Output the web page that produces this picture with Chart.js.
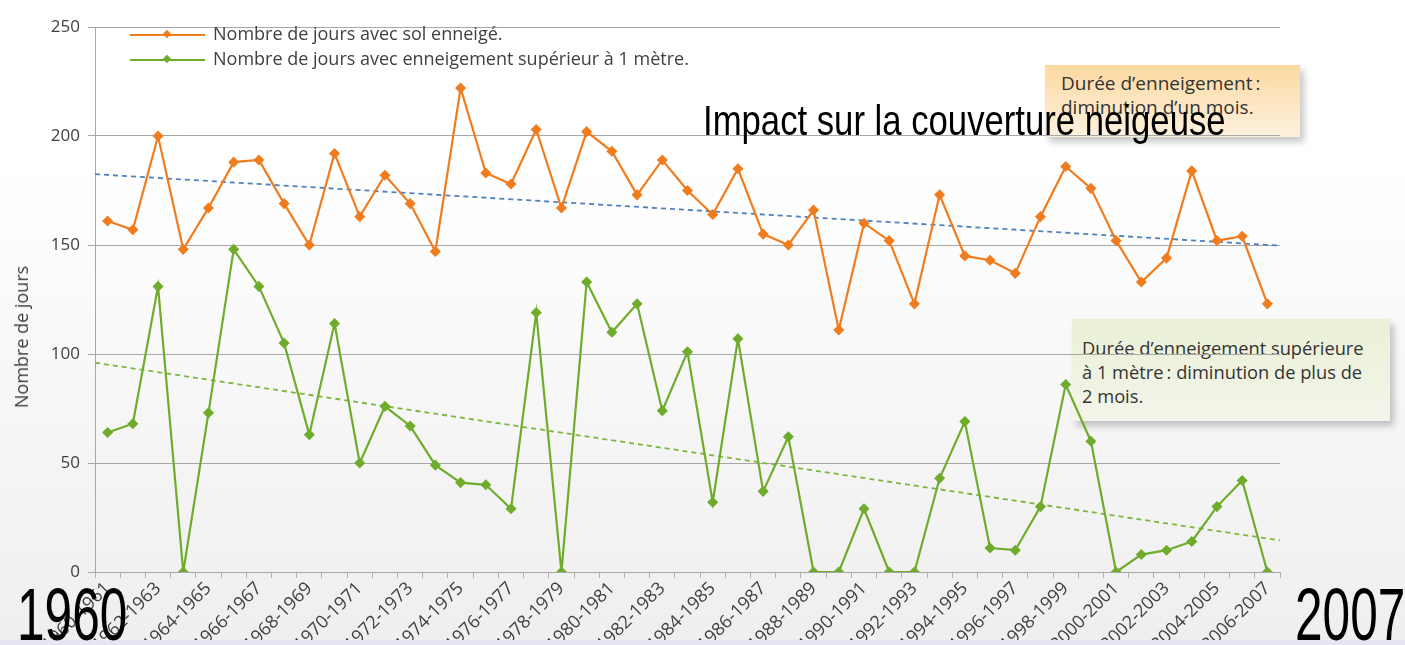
<!DOCTYPE html>
<html>
<head>
<meta charset="utf-8">
<script src="https://cdn.jsdelivr.net/npm/chart.js@4"></script>
<style>
  html, body { margin: 0; padding: 0; }
  body {
    width: 1405px; height: 645px; position: relative; overflow: hidden;
    background: linear-gradient(to bottom, #ffffff 0%, #ffffff 25%, #f7f7f7 60%, #efefef 98%);
    font-family: "Open Sans", sans-serif; color: #404040;
  }
  .strip { position: absolute; left: 0; top: 640px; width: 1405px; height: 5px; background: #e6e6f2; }
  #wrap { position: absolute; left: 0; top: 0; width: 1405px; height: 645px; }
  .box { position: absolute; box-shadow: 4px 5px 7px rgba(0,0,0,0.22); color: #333; white-space: nowrap; }
  .box1 { left: 1045px; top: 65px; width: 255px; height: 72px; padding: 6px 0 0 16px; box-sizing: border-box;
          font-size: 19px; line-height: 24px;
          background: linear-gradient(to bottom, #fcd9a0, #fdf1df); }
  .box2 { left: 1072px; top: 319px; width: 318px; height: 102px; padding: 17px 0 0 10px; box-sizing: border-box;
          font-size: 18.3px; line-height: 24px;
          background: linear-gradient(to bottom, #eaf0d6, #f3f5ea); }
  .big { position: absolute; font-family: "Liberation Sans", Arial, sans-serif; color: #000; white-space: nowrap;
         line-height: 1; transform-origin: left top; }
  .legend { position: absolute; left: 130px; font-size: 18px; white-space: nowrap; }
  .legend .ln { position: absolute; left: 0; top: -1px; width: 75px; height: 2px; }
  .legend .dm { position: absolute; left: 34px; top: -4px; width: 6px; height: 6px; transform: rotate(45deg); }
  .legend .tx { position: absolute; left: 83px; top: -14px; }
  .ytitle { position: absolute; left: 21px; top: 337px; font-size: 18px; white-space: nowrap;
            transform: translate(-50%, -50%) rotate(-90deg); }
</style>
</head>
<body>
<div class="box box1">Durée d’enneigement&#8201;:<br>diminution d’un mois.</div>
<div class="box box2">Durée d’enneigement supérieure<br>à 1 mètre&#8201;: diminution de plus de<br>2 mois.</div>
<div id="wrap"><canvas id="myChart" width="1405" height="645"></canvas></div>
<div class="strip"></div>
<div class="ytitle">Nombre de jours</div>
<div class="legend" style="top:35px"><div class="ln" style="background:#f07c1e"></div><div class="dm" style="background:#f07c1e"></div><div class="tx">Nombre de jours avec sol enneigé.</div></div>
<div class="legend" style="top:60px"><div class="ln" style="background:#6fac2c"></div><div class="dm" style="background:#6fac2c"></div><div class="tx">Nombre de jours avec enneigement supérieur à 1 mètre.</div></div>
<div class="big" style="left:703px; top:100px; font-size:42px; transform:scaleX(0.826)">Impact sur la couverture neigeuse</div>
<div class="big" style="left:17px; top:578px; font-size:74px; transform:scaleX(0.67)">1960</div>
<div class="big" style="left:1295px; top:578px; font-size:74px; transform:scaleX(0.67)">2007</div>
<script>
const saisons = [
  '1960-1961', '1961-1962', '1962-1963', '1963-1964', '1964-1965', '1965-1966', '1966-1967', '1967-1968',
  '1968-1969', '1969-1970', '1970-1971', '1971-1972', '1972-1973', '1973-1974', '1974-1975', '1975-1976',
  '1976-1977', '1977-1978', '1978-1979', '1979-1980', '1980-1981', '1981-1982', '1982-1983', '1983-1984',
  '1984-1985', '1985-1986', '1986-1987', '1987-1988', '1988-1989', '1989-1990', '1990-1991', '1991-1992',
  '1992-1993', '1993-1994', '1994-1995', '1995-1996', '1996-1997', '1997-1998', '1998-1999', '1999-2000',
  '2000-2001', '2001-2002', '2002-2003', '2003-2004', '2004-2005', '2005-2006', '2006-2007'
];

const solEnneige = [
  161, 157, 200, 148, 167, 188, 189, 169, 150, 192, 163, 182, 169, 147, 222, 183,
  178, 203, 167, 202, 193, 173, 189, 175, 164, 185, 155, 150, 166, 111, 160, 152,
  123, 173, 145, 143, 137, 163, 186, 176, 152, 133, 144, 184, 152, 154, 123
];

const plusDunMetre = [
  64, 68, 131, 0, 73, 148, 131, 105, 63, 114, 50, 76, 67, 49, 41, 40,
  29, 119, 0, 133, 110, 123, 74, 101, 32, 107, 37, 62, 0, 0, 29, 0,
  0, 43, 69, 11, 10, 30, 86, 60, 0, 8, 10, 14, 30, 42, 0
];

// tendances lineaires : valeur au bord gauche et au bord droit du graphique
const tendanceSol = [182.5, 149.7];
const tendanceMetre = [96, 14.5];

const orange = '#f07c1e';
const vert = '#6fac2c';
const n = saisons.length;

const ctx = document.getElementById('myChart').getContext('2d');
const myChart = new Chart(ctx, {
    type: 'line',
    data: {
        labels: saisons,
        datasets: [
            {
                label: 'Nombre de jours avec sol enneigé.',
                data: solEnneige,
                borderColor: orange,
                backgroundColor: orange,
                borderWidth: 2.2,
                pointStyle: 'rectRot',
                pointRadius: 4,
                tension: 0
            },
            {
                label: 'Nombre de jours avec enneigement supérieur à 1 mètre.',
                data: plusDunMetre,
                borderColor: vert,
                backgroundColor: vert,
                borderWidth: 2.2,
                pointStyle: 'rectRot',
                pointRadius: 4,
                tension: 0
            },
            {
                label: 'tendance sol',
                data: [{x: -0.5, y: tendanceSol[0]}, {x: n - 0.5, y: tendanceSol[1]}],
                xAxisID: 'xt',
                borderColor: '#4f81bd',
                borderWidth: 1.8,
                borderDash: [5, 4],
                pointRadius: 0
            },
            {
                label: 'tendance metre',
                data: [{x: -0.5, y: tendanceMetre[0]}, {x: n - 0.5, y: tendanceMetre[1]}],
                xAxisID: 'xt',
                borderColor: '#7cb83e',
                borderWidth: 1.8,
                borderDash: [5, 4],
                pointRadius: 0
            }
        ]
    },
    options: {
        responsive: false,
        animation: false,
        layout: { padding: { top: 27, right: 125, left: 0, bottom: 0 } },
        plugins: {
            legend: { display: false },
            tooltip: { enabled: false }
        },
        scales: {
            x: {
                type: 'category',
                offset: true,
                afterFit: (s) => { s.height = 73; },
                grid: {
                    offset: true,
                    drawOnChartArea: false,
                    drawTicks: true,
                    tickLength: 6,
                    color: '#b0b0b0'
                },
                border: { color: '#a8a8a8' },
                ticks: {
                    autoSkip: false,
                    minRotation: 45,
                    maxRotation: 45,
                    padding: 0,
                    color: '#404040',
                    font: { family: 'Open Sans', size: 18 },
                    callback: (v, i) => i % 2 === 0 ? saisons[i] : ''
                }
            },
            xt: {
                type: 'linear',
                display: false,
                min: -0.5,
                max: n - 0.5
            },
            y: {
                min: 0,
                max: 250,
                afterFit: (s) => { s.width = 95; },
                ticks: {
                    stepSize: 50,
                    padding: 8,
                    color: '#404040',
                    font: { family: 'Open Sans', size: 17 }
                },
                grid: {
                    color: '#a8a8a8',
                    tickLength: 7
                },
                border: { color: '#a8a8a8' }
            }
        }
    }
});
</script>
</body>
</html>
